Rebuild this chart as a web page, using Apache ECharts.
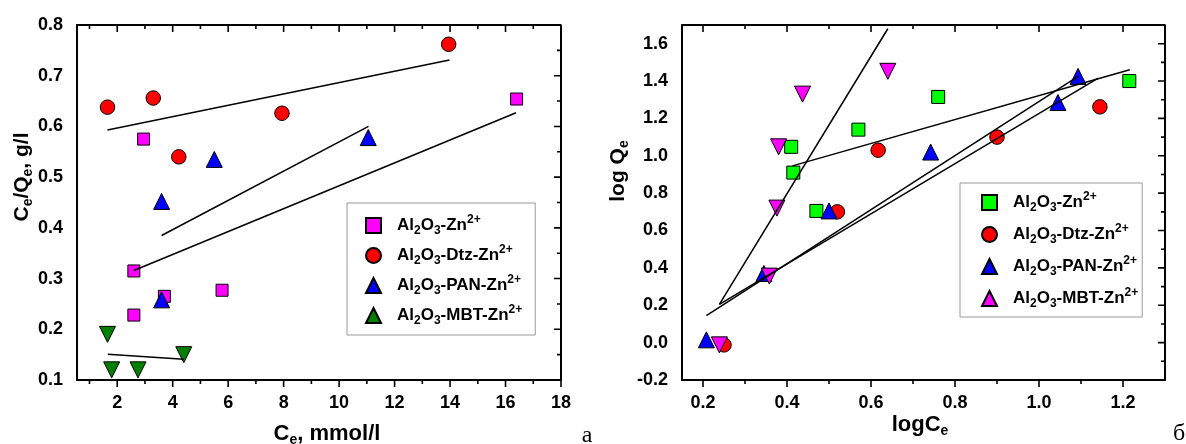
<!DOCTYPE html>
<html><head><meta charset="utf-8">
<script src="https://cdn.jsdelivr.net/npm/echarts@6/dist/echarts.min.js"></script>
<style>html,body{margin:0;padding:0;background:#fff}#c{width:1186px;height:444px}</style>
</head><body><div id="c"></div>
<script>
// ---------- Panel a: Ce/Qe vs Ce ----------
const aZn  = [[2.6,0.228],[2.6,0.315],[2.95,0.575],[3.7,0.265],[5.78,0.277],[16.4,0.654]];
const aDtz = [[1.65,0.638],[3.3,0.656],[4.22,0.540],[7.94,0.626],[13.95,0.762]];
const aPan = [[3.6,0.258],[3.6,0.452],[5.5,0.535],[11.05,0.578]];
const aMbt = [[1.65,0.19],[1.8,0.12],[2.75,0.12],[4.4,0.15]];
const aFitZn  = [[2.6,0.316],[16.38,0.627]];
const aFitDtz = [[1.65,0.593],[13.98,0.731]];
const aFitPan = [[3.6,0.385],[11.06,0.600]];
const aFitMbt = [[1.66,0.151],[4.4,0.141]];
const aXRange = [0.55, 18];
const aYRange = [0.1, 0.8];
const aXTicks = [2,4,6,8,10,12,14,16,18];
const aXMinor = [1,3,5,7,9,11,13,15,17];
const aYTicks = [0.1,0.2,0.3,0.4,0.5,0.6,0.7,0.8];
const aYMinor = [0.15,0.25,0.35,0.45,0.55,0.65,0.75];

// ---------- Panel b: log Qe vs log Ce ----------
const bZn  = [[0.41,1.048],[0.415,0.91],[0.47,0.705],[0.57,1.14],[0.76,1.315],[1.215,1.40]];
const bDtz = [[0.25,-0.012],[0.52,0.70],[0.617,1.03],[0.9,1.10],[1.145,1.262]];
const bPan = [[0.208,0.015],[0.345,0.37],[0.5,0.705],[0.742,1.02],[1.045,1.285],[1.093,1.425]];
const bMbt = [[0.239,-0.012],[0.358,0.356],[0.376,0.72],[0.38,1.048],[0.437,1.33],[0.64,1.452]];
const bFitZn  = [[0.413,0.946],[1.216,1.46]];
const bFitDtz = [[0.239,0.205],[1.141,1.416]];
const bFitPan = [[0.208,0.144],[1.093,1.425]];
const bFitMbt = [[0.239,0.205],[0.64,1.68]];
const bXRange = [0.15, 1.3];
const bYRange = [-0.2, 1.7];
const bXTicks = [0.2,0.4,0.6,0.8,1.0,1.2];
const bXMinor = [0.3,0.5,0.7,0.9,1.1];
const bYTicks = [-0.2,0.0,0.2,0.4,0.6,0.8,1.0,1.2,1.4,1.6];
const bYMinor = [-0.1,0.1,0.3,0.5,0.7,0.9,1.1,1.3,1.5];

const legendNames = {
  aZn:'{g|}Al{s|2}O{s|3}-Zn{p|2+}', aDtz:'{g|}Al{s|2}O{s|3}-Dtz-Zn{p|2+}', aPan:'{g|}Al{s|2}O{s|3}-PAN-Zn{p|2+}', aMbt:'{g|}Al{s|2}O{s|3}-MBT-Zn{p|2+}',
  bZn:'{g|}Al{s|2}O{s|3}-Zn{p|2+}', bDtz:'{g|}Al{s|2}O{s|3}-Dtz-Zn{p|2+}', bPan:'{g|}Al{s|2}O{s|3}-PAN-Zn{p|2+}', bMbt:'{g|}Al{s|2}O{s|3}-MBT-Zn{p|2+}'
};

const FONT = 'Liberation Sans, Arial, sans-serif';
const BLACK = '#000';
const MAJOR_LEN = 7, MINOR_LEN = 4;
const GRIDS = [{left:77, top:25, width:484, height:355}, {left:682, top:25, width:483, height:355}];

const fmtInt = v => String(Math.round(v));
const fmt1 = v => (Math.abs(v) < 1e-9 ? 0 : v).toFixed(1);

function xAxisFor(grid, range, major, fmt) {
  return {type:'value', gridIndex:grid, min:range[0], max:range[1], position:'bottom',
    splitLine:{show:false}, axisTick:{show:false},
    axisLine:{show:true,onZero:false,lineStyle:{color:BLACK,width:1.8}},
    axisLabel:{show:true,customValues:major,formatter:fmt,margin:14,color:BLACK,fontSize:18,fontWeight:'bold',fontFamily:FONT}};
}
function yAxisFor(grid, range, major, fmt) {
  return {type:'value', gridIndex:grid, min:range[0], max:range[1], position:'left',
    splitLine:{show:false}, axisTick:{show:false},
    axisLine:{show:true,onZero:false,lineStyle:{color:BLACK,width:1.8}},
    axisLabel:{show:true,customValues:major,formatter:fmt,margin:14,color:BLACK,fontSize:18,fontWeight:'bold',fontFamily:FONT}};
}

// Frame of a plot, drawn as a line series through the axis scales (corners = axis ranges)
function frame(idx, xr, yr) {
  return {type:'line', xAxisIndex:idx, yAxisIndex:idx, symbol:'none', silent:true, clip:false, z:4,
    data:[[xr[0],yr[0]],[xr[1],yr[0]],[xr[1],yr[1]],[xr[0],yr[1]],[xr[0],yr[0]]],
    lineStyle:{color:BLACK, width:2}};
}
// Tick marks as broken line series: x ticks hang downward from the bottom (outside) and top (inside) edges
function xTickLine(idx, vals, yr, lenPx) {
  const d = lenPx * (yr[1] - yr[0]) / GRIDS[idx].height;
  const data = [];
  vals.forEach(v => { data.push([v, yr[0]], [v, yr[0] - d], null, [v, yr[1]], [v, yr[1] - d], null); });
  return {type:'line', xAxisIndex:idx, yAxisIndex:idx, symbol:'none', silent:true, clip:false, z:4,
    connectNulls:false, data:data, lineStyle:{color:BLACK, width:1.6}};
}
// y ticks point left from the left (outside) and right (inside) edges
function yTickLine(idx, vals, xr, lenPx) {
  const d = lenPx * (xr[1] - xr[0]) / GRIDS[idx].width;
  const data = [];
  vals.forEach(v => { data.push([xr[0], v], [xr[0] - d, v], null, [xr[1], v], [xr[1] - d, v], null); });
  return {type:'line', xAxisIndex:idx, yAxisIndex:idx, symbol:'none', silent:true, clip:false, z:4,
    connectNulls:false, data:data, lineStyle:{color:BLACK, width:1.6}};
}

function scatter(name, idx, data, symbol, size, color, rotate) {
  return {type:'scatter', name:name, xAxisIndex:idx, yAxisIndex:idx, data:data, symbol:symbol,
    symbolSize:size, symbolRotate:rotate||0, z:2,
    itemStyle:{color:color, borderColor:BLACK, borderWidth:1, opacity:1}};
}
function fit(idx, data) {
  return {type:'line', xAxisIndex:idx, yAxisIndex:idx, data:data, symbol:'none', silent:true, z:3,
    lineStyle:{color:BLACK, width:1.5}};
}

const richLegend = {
  g:{width:11},
  s:{fontSize:12, fontWeight:'bold', fontFamily:FONT, color:BLACK, padding:[11,0,0,0]},
  p:{fontSize:12, fontWeight:'bold', fontFamily:FONT, color:BLACK, padding:[0,0,11,0]}
};
const richTitle = {
  s:{fontSize:14, fontWeight:'bold', fontFamily:FONT, color:BLACK, padding:[12,0,0,0]}
};
function legendFor(names, left, top, pad, gap) {
  return {data:names, orient:'vertical', left:left, top:top, padding:pad, itemGap:gap,
    itemWidth:15, itemHeight:15, borderColor:'#999', borderWidth:1, backgroundColor:'#fff',
    selectedMode:false, formatter: n => legendNames[n], z:6,
    textStyle:{fontSize:17, fontWeight:'bold', fontFamily:FONT, color:BLACK, rich:richLegend}};
}
function title(x, y, text, rot, rich, size, family, weight) {
  return {type:'text', x:x, y:y, rotation:rot||0, z:10,
    style:{text:text, fill:BLACK, fontSize:size||21, fontWeight:weight||'bold', fontFamily:family||FONT,
      align:'center', verticalAlign:'middle', rich:rich||{}}};
}

const option = {
  animation:false,
  backgroundColor:'#fff',
  grid: GRIDS,
  xAxis:[xAxisFor(0, aXRange, aXTicks, fmtInt), xAxisFor(1, bXRange, bXTicks, fmt1)],
  yAxis:[yAxisFor(0, aYRange, aYTicks, fmt1), yAxisFor(1, bYRange, bYTicks, fmt1)],
  legend:[
    legendFor(['aZn','aDtz','aPan','aMbt'], 347, 203, [11,13,8,18], 7),
    legendFor(['bZn','bDtz','bPan','bMbt'], 960, 183, [8,4,7,21], 9)
  ],
  series:[
    scatter('aZn', 0, aZn, 'rect', 12, '#FF00FF'),
    scatter('aDtz', 0, aDtz, 'circle', 14.5, '#FF0000'),
    scatter('aPan', 0, aPan, 'triangle', 16, '#0000FF'),
    scatter('aMbt', 0, aMbt, 'triangle', 16, '#007F00', 180),
    fit(0, aFitZn), fit(0, aFitDtz), fit(0, aFitPan), fit(0, aFitMbt),
    frame(0, aXRange, aYRange),
    xTickLine(0, aXTicks, aYRange, MAJOR_LEN), xTickLine(0, aXMinor, aYRange, MINOR_LEN),
    yTickLine(0, aYTicks, aXRange, MAJOR_LEN), yTickLine(0, aYMinor, aXRange, MINOR_LEN),
    scatter('bZn', 1, bZn, 'rect', 13, '#00FF00'),
    scatter('bDtz', 1, bDtz, 'circle', 14.5, '#FF0000'),
    scatter('bPan', 1, bPan, 'triangle', 16, '#0000FF'),
    scatter('bMbt', 1, bMbt, 'triangle', 16, '#FF00FF', 180),
    fit(1, bFitZn), fit(1, bFitDtz), fit(1, bFitPan), fit(1, bFitMbt),
    frame(1, bXRange, bYRange),
    xTickLine(1, bXTicks, bYRange, MAJOR_LEN), xTickLine(1, bXMinor, bYRange, MINOR_LEN),
    yTickLine(1, bYTicks, bXRange, MAJOR_LEN), yTickLine(1, bYMinor, bXRange, MINOR_LEN)
  ],
  graphic:[
    title(22, 177, 'C{s|e}/Q{s|e}, g/l', Math.PI/2, richTitle),
    title(618, 171, 'log Q{s|e}', Math.PI/2, richTitle),
    title(327, 434, 'C{s|e}, mmol/l', 0, richTitle, 22),
    title(920, 425, 'logC{s|e}', 0, richTitle, 22),
    title(587, 436, 'а', 0, {}, 24, 'Liberation Serif, Times New Roman, serif', 'normal'),
    title(1179, 434, 'б', 0, {}, 24, 'Liberation Serif, Times New Roman, serif', 'normal')
  ]
};
echarts.init(document.getElementById('c'), null, {renderer:'canvas'}).setOption(option);
</script></body></html>
